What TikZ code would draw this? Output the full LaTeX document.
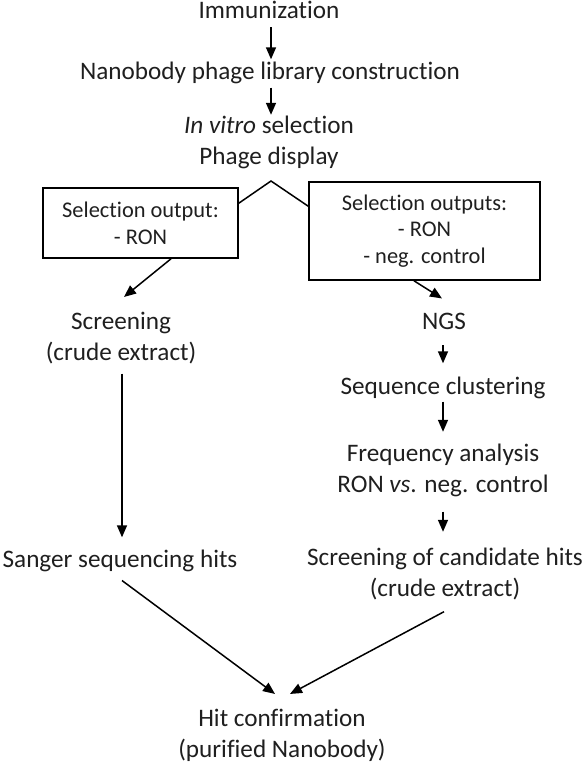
\documentclass[tikz,border=0pt]{standalone}
\usepackage{fontspec}
\setmainfont{Carlito}[Ligatures=CommonOff]
\usetikzlibrary{arrows.meta}
\begin{document}
\begin{tikzpicture}[x=1pt,y=-1pt,
  txt/.style={font=\fontsize{25.2}{30.5}\selectfont, inner sep=0pt, align=center, anchor=base, text=black!88},
  outbox/.style={draw, line width=1.6pt, font=\fontsize{22.4}{26.8}\selectfont, inner sep=0pt, align=center, text=black!88},
  arr/.style={line width=1.5pt, -{Triangle[width=10pt,length=12pt]}},
  ln/.style={line width=1.5pt}]
\useasboundingbox (0,0) rectangle (588,765);
\node[txt] (imm) at (269,19) {Immunization};
\node[txt] (lib) at (270,80) {Nanobody phage library construction};
\node[txt] (sel) at (269,164) {\textit{In vitro} selection\\Phage display};
\coordinate (apex) at (271,181);
\node[outbox, minimum width=195pt, minimum height=70pt] (lbox) at (140.5,223) {Selection output:\\- RON};
\node[outbox, minimum width=231pt, minimum height=98pt] (rbox) at (424.5,231) {Selection outputs:\\- RON\\- neg. control};
\node[txt] (scr) at (121,360) {Screening\\(crude extract)};
\node[txt] (ngs) at (444,329) {NGS};
\node[txt] (clu) at (443,394) {Sequence clustering};
\node[txt] (freq) at (443,492) {Frequency analysis\\RON \textit{vs}. neg. control};
\node[txt] (sang) at (120,567) {Sanger sequencing hits};
\node[txt] (cand) at (445,596) {Screening of candidate hits\\(crude extract)};
\node[txt] (hit) at (282,757) {Hit confirmation\\(purified Nanobody)};

\draw[arr] ([xshift=2pt,yshift=-8pt]imm.south) -- ([xshift=1pt,yshift=3pt]lib.north);
\draw[arr] ([xshift=1pt,yshift=-3pt]lib.south) -- ([xshift=2pt,yshift=1pt]sel.north);
\draw[ln] ([yshift=-16pt]lbox.north east) -- (apex) -- ([yshift=-25pt]rbox.north west);
\draw[arr] ([xshift=30.5pt]lbox.south) -- ([xshift=3pt,yshift=15pt]scr.north);
\draw[arr] ([xshift=-10.5pt]rbox.south) -- ([xshift=-2pt,yshift=14pt]ngs.north);
\draw[arr] ([xshift=-1pt,yshift=-16pt]ngs.south) -- ([xshift=-1pt,yshift=13pt]ngs.south |- clu.north);
\draw[arr] ([yshift=-3pt]clu.south) -- ([yshift=12pt]freq.north);
\draw[arr] ([yshift=-15pt]freq.south) -- ([yshift=16pt]cand.north -| freq.south);
\draw[arr] ([xshift=1pt,yshift=-10pt]scr.south) -- ([xshift=1pt,yshift=12pt]sang.north -| scr.south);
\draw[arr] ([xshift=2pt,yshift=-9pt]sang.south) -- ([xshift=-7pt,yshift=15pt]hit.north);
\draw[arr] ([xshift=-1pt,yshift=-12pt]cand.south) -- ([xshift=8pt,yshift=15pt]hit.north);
\end{tikzpicture}
\end{document}
